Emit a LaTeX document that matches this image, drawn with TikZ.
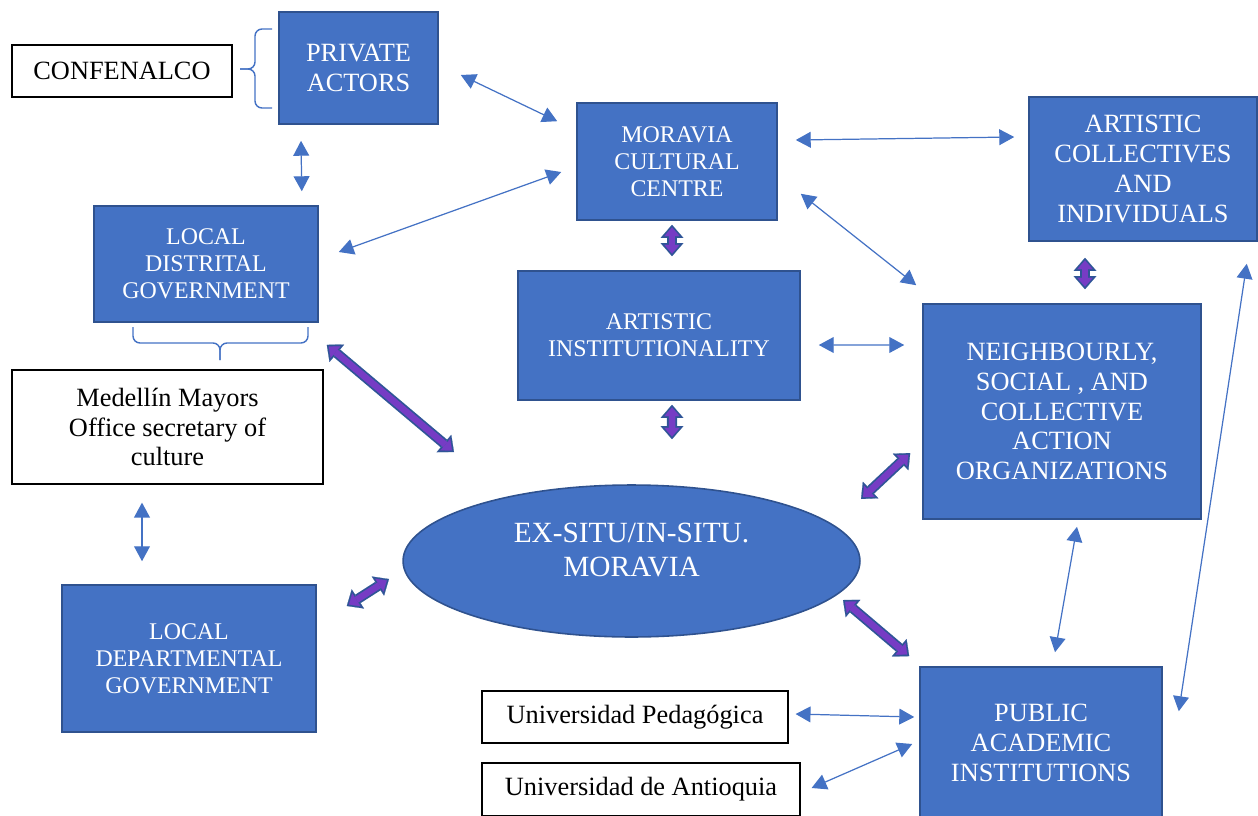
\documentclass[tikz,border=0pt]{standalone}
\usepackage{fontspec}
\setmainfont{Liberation Serif}
\usetikzlibrary{arrows.meta}
\usetikzlibrary{shapes.geometric}
\definecolor{boxblue}{HTML}{4472C4}
\definecolor{boxedge}{HTML}{2F528F}
\definecolor{fatpurple}{RGB}{118,60,196}
\definecolor{fatedge}{HTML}{2F5597}

\begin{document}
\begin{tikzpicture}[x=0.02cm,y=-0.02cm]
   \tikzset{bluebox/.style={draw=boxedge, fill=boxblue, line width=0.9pt, text=white, align=center, inner sep=0pt}}
   \tikzset{whitebox/.style={draw=black, fill=white, line width=0.7pt, text=black, align=center, inner sep=0pt}}
   \tikzset{bigtext/.style={font=\fontsize{15}{17}\selectfont}}
   \tikzset{smalltext/.style={font=\fontsize{13.6}{15.4}\selectfont}}
   \tikzset{link/.style={draw=boxblue, line width=0.7pt, {Triangle[length=8.5pt,width=9pt]}-{Triangle[length=8.5pt,width=9pt]}}}
   \tikzset{fatlink/.style={draw=fatpurple, line width=3.7pt, shorten >=1.5pt, shorten <=1.5pt,
      {Triangle[length=5pt,width=8.7pt,line width=0.1pt]}-{Triangle[length=5pt,width=8.7pt,line width=0.1pt]},
      preaction={draw=fatedge, line width=5.7pt, shorten >=0pt, shorten <=0pt,
      {Triangle[length=7.5pt,width=13pt,line width=0.1pt]}-{Triangle[length=7.5pt,width=13pt,line width=0.1pt]}}}}
   \tikzset{bracket/.style={draw=boxblue, line width=0.8pt, rounded corners=4pt}}
   \useasboundingbox (0,0) rectangle (1258,815);

   \node[whitebox, bigtext, minimum width=4.4cm, minimum height=1.04cm] (conf) at (122,71) {CONFENALCO};
   \node[bluebox, bigtext, minimum width=3.18cm, minimum height=2.24cm] (priv) at (358.5,68) {PRIVATE\\ACTORS};
   \node[bluebox, smalltext, minimum width=4cm, minimum height=2.34cm] (mcc) at (677,161.5) {MORAVIA\\CULTURAL\\CENTRE};
   \node[bluebox, bigtext, minimum width=4.56cm, minimum height=2.88cm] (coll) at (1143,169) {ARTISTIC\\COLLECTIVES\\AND\\INDIVIDUALS};
   \node[bluebox, smalltext, minimum width=4.48cm, minimum height=2.32cm] (ldg) at (206,264) {LOCAL\\DISTRITAL\\GOVERNMENT};
   \node[whitebox, bigtext, minimum width=6.22cm, minimum height=2.28cm] (med) at (167.5,427) {Medellín Mayors\\Office secretary of\\culture};
   \node[bluebox, smalltext, minimum width=5.64cm, minimum height=2.58cm] (ainst) at (659,335.5) {ARTISTIC\\INSTITUTIONALITY};
   \node[bluebox, bigtext, minimum width=5.56cm, minimum height=4.3cm] (neigh) at (1062,411.5) {NEIGHBOURLY,\\SOCIAL , AND\\COLLECTIVE\\ACTION\\ORGANIZATIONS};
   \node[bluebox, ellipse, font=\fontsize{16.7}{19.3}\selectfont, text depth=12.5pt, minimum width=9.14cm, minimum height=3.04cm] (ell) at (631.5,561) {EX-SITU/IN-SITU.\\MORAVIA};
   \node[bluebox, smalltext, minimum width=5.08cm, minimum height=2.94cm] (ldep) at (189,658.5) {LOCAL\\DEPARTMENTAL\\GOVERNMENT};
   \node[bluebox, bigtext, minimum width=4.84cm, minimum height=3.04cm] (pub) at (1041,743) {PUBLIC\\ACADEMIC\\INSTITUTIONS};
   \node[whitebox, bigtext, minimum width=6.12cm, minimum height=1.04cm] (ped) at (635,717) {Universidad Pedagógica};
   \node[whitebox, bigtext, minimum width=6.36cm, minimum height=1.06cm] (ant) at (641,789.5) {Universidad de Antioquia};

   \draw[bracket] (272,29) -- (255,29) -- (255,69) -- (240,69);
   \draw[bracket] (272,108) -- (255,108) -- (255,69) -- (240,69);
   \draw[bracket] (133,327) -- (133,343) -- (220,343) -- (220,360);
   \draw[bracket] (308,327) -- (308,343) -- (220,343) -- (220,360);

   \draw[link] ([shift={(22,7)}]priv.east) -- ([shift={(-19,19)}]mcc.north west);
   \draw[link] ([shift={(-57.5,16)}]priv.south) -- ([shift={(-17,-14)}]ldg.north east);
   \draw[link] ([shift={(-15,10.5)}]mcc.west) -- ([shift={(20,-12)}]ldg.east);
   \draw[link] ([shift={(18,-21.5)}]mcc.east) -- ([shift={(-14,-32)}]coll.west);
   \draw[link] ([shift={(23,-27)}]mcc.south east) -- ([shift={(-6,-18)}]neigh.north west);
   \draw[link] ([shift={(18,9.5)}]ainst.east) -- ([shift={(-18,-66.5)}]neigh.west);
   \draw[link] ([shift={(-25.5,18)}]med.south) -- ([shift={(-47,-23)}]ldep.north);
   \draw[link] ([shift={(15,7)}]neigh.south) -- ([shift={(14,-14)}]pub.north);
   \draw[link] ([shift={(-11,22)}]coll.south east) -- ([shift={(16,45)}]pub.north east);
   \draw[link] ([shift={(7,-3)}]ped.east) -- ([shift={(-5,-26)}]pub.west);
   \draw[link] ([shift={(11,-1.5)}]ant.east) -- ([shift={(-7,1)}]pub.west);

   \draw[fatlink] ([shift={(-5,4)}]mcc.south) -- ([shift={(13,-14)}]ainst.north);
   \draw[fatlink] ([shift={(13,4)}]ainst.south) -- ([shift={(40.5,-45)}]ell.north);
   \draw[fatlink] ([shift={(8,22)}]ldg.south east) -- ([shift={(-177.5,-109)}]ell.center);
   \draw[fatlink] ([shift={(-12,41.5)}]neigh.west) -- ([shift={(229.5,-62)}]ell.center);
   \draw[fatlink] ([shift={(30,-52.5)}]ldep.east) -- ([shift={(-242.5,18)}]ell.center);
   \draw[fatlink] ([shift={(211.5,39)}]ell.center) -- ([shift={(-10,-10)}]pub.north west);
   \draw[fatlink] ([shift={(-58,16)}]coll.south) -- ([shift={(23,-14)}]neigh.north);
\end{tikzpicture}
\end{document}
